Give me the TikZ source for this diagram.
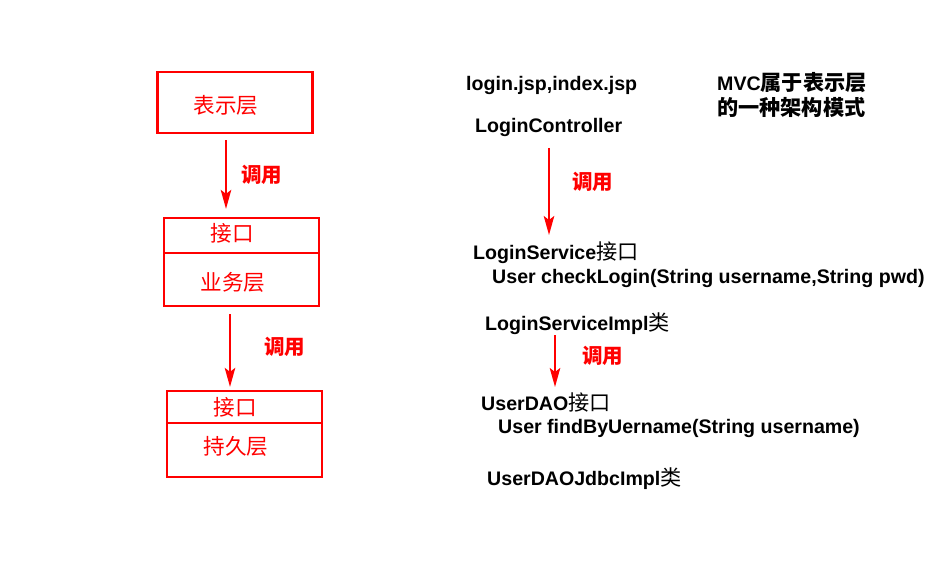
\documentclass[tikz,border=0pt]{standalone}
\usepackage{fontspec}
\setmainfont{Liberation Sans}
\newfontfamily\cjk[Scale=1.08]{Noto Sans CJK SC}
\usetikzlibrary{arrows.meta,positioning,calc}
\definecolor{layerRed}{HTML}{FF0000}

\begin{document}
\begin{tikzpicture}[x=1pt, y=-1pt,
    every node/.style={inner sep=0pt},
    layer/.style={draw=layerRed, line width=2.2pt, minimum width=155pt},
    layertext/.style={text=layerRed, font=\cjk\fontsize{20}{24}\selectfont},
    call/.style={-{Stealth[length=19pt,width=10.5pt,inset=4pt]}, layerRed, line width=2pt},
    calltext/.style={text=layerRed, font=\cjk\bfseries\fontsize{19}{22}\selectfont},
    code/.style={anchor=west, font=\bfseries\fontsize{19.6}{25}\selectfont},
  ]
  \useasboundingbox (0,0) rectangle (942,580);

  % Left column - layers
  \node[layer, minimum height=61pt] (pres) at (235,102.5) {};
  \node[layertext] (presT) at (226,105) {表示层};

  \node[layer, minimum height=35pt] (svcIf) at (241.5,235.5) {};
  \node[layer, minimum height=53pt] (svc) at (241.5,279.5) {};
  \node[layertext] (svcIfT) at (232,233) {接口};
  \node[layertext] (svcT) at (233,282) {业务层};

  \node[layer, minimum height=32pt] (daoIf) at (244.5,407) {};
  \node[layer, minimum height=54pt] (dao) at (244.5,450) {};
  \node[layertext] (daoIfT) at (235.5,407) {接口};
  \node[layertext] (daoT) at (236,446) {持久层};

  % Left arrows
  \draw[call] ($(pres.south)+(-9,6)$) -- ($(svcIf.north)+(-15.5,-8)$)
    node[calltext, pos=0.5, anchor=west, xshift=14pt] (callA) {调用};
  \draw[call] ($(svc.south)+(-11.5,7)$) -- ($(daoIf.north)+(-14.5,-3)$)
    node[calltext, pos=0.5, anchor=west, xshift=33pt, yshift=3.5pt] (callB) {调用};

  % Right column - classes
  \node[code] (jsp) at (466,85) {login.jsp,index.jsp};
  \node[code, align=left] (mvc) at (717,94.5)
    {MVC{\cjk 属于表示层}\\{\cjk 的一种架构模式}};
  \node[code] (ctrl) at (475,127) {LoginController};
  \node[code] (svcI) at (473,253) {LoginService{\cjk\mdseries 接口}};
  \node[code] (check) at (492,278) {User checkLogin(String username,String pwd)};
  \node[code] (implI) at (485,324) {LoginServiceImpl{\cjk\mdseries 类}};
  \node[code] (daoI) at (481,402) {UserDAO{\cjk\mdseries 接口}};
  \node[code] (find) at (498,428) {User findByUername(String username)};
  \node[code] (jdbc) at (487,479) {UserDAOJdbcImpl{\cjk\mdseries 类}};

  % Right arrows
  \draw[call] ($(ctrl.west)+(74,21)$) -- ($(svcI.west)+(76,-18)$)
    node[calltext, pos=0.5, anchor=west, xshift=22pt, yshift=9.5pt] (callC) {调用};
  \draw[call] ($(implI.west)+(70,11)$) -- ($(daoI.west)+(74,-15)$)
    node[calltext, pos=0.5, anchor=west, xshift=26pt, yshift=5pt] (callD) {调用};
\end{tikzpicture}
\end{document}
